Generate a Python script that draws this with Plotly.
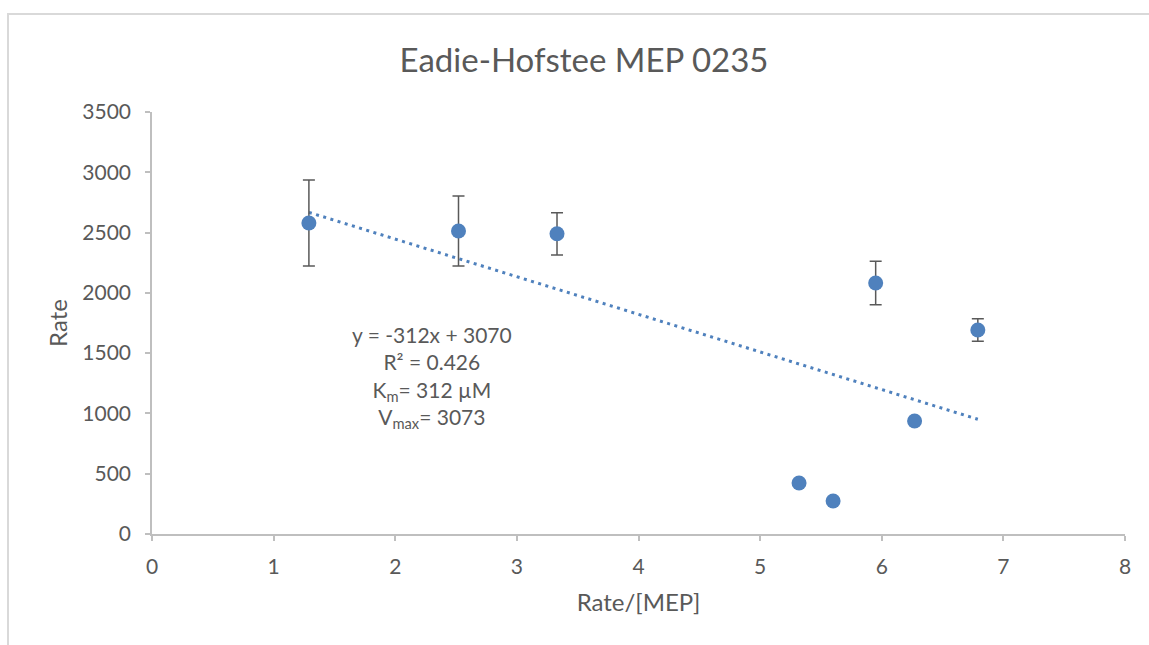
import plotly.graph_objects as go

# Data
rate_over_mep = [1.29, 2.52, 3.33, 5.95, 6.79, 6.27, 5.32, 5.60]
rate = [2579, 2513, 2490, 2082, 1692, 937, 423, 274]
rate_err = [357, 290, 175, 180, 94, 0, 0, 0]

# Linear trendline y = slope*x + intercept
slope = -312
intercept = 3070

x_ticks = [0, 1, 2, 3, 4, 5, 6, 7, 8]
y_ticks = [0, 500, 1000, 1500, 2000, 2500, 3000, 3500]

FONT = "Lato"
TXT = "#595959"
AX = "#BFBFBF"
BLUE = "#4F81BD"

x_min, x_max = min(rate_over_mep), max(rate_over_mep)
trend_x = [x_min, x_max]
trend_y = [slope * v + intercept for v in trend_x]

fig = go.Figure()
fig.add_trace(go.Scatter(
    x=trend_x, y=trend_y, mode="lines",
    line=dict(color=BLUE, width=3, dash="3px,4.5px"),
    hoverinfo="skip", showlegend=False,
))
fig.add_trace(go.Scatter(
    x=rate_over_mep, y=rate, mode="markers",
    marker=dict(color=BLUE, size=15, line=dict(width=0)),
    error_y=dict(type="data", array=rate_err, visible=True,
                 color="#595959", thickness=1.5, width=6),
    showlegend=False,
))

fig.add_annotation(
    x=2.3, y=1300, xref="x", yref="y",
    text="y = -312x + 3070<br>R² = 0.426<br>K<sub>m</sub>= 312 µM<br>V<sub>max</sub>= 3073",
    showarrow=False, align="center",
    font=dict(family=FONT, size=21, color=TXT),
)

fig.update_layout(
    width=1149, height=645,
    margin=dict(l=152, r=24, t=112, b=111),
    paper_bgcolor="white", plot_bgcolor="white",
    title=dict(text="Eadie-Hofstee MEP 0235", x=584 / 1149, xanchor="center",
               xref="container", y=1 - 60 / 645, yanchor="middle", yref="container",
               font=dict(family=FONT, size=33, color=TXT)),
    font=dict(family=FONT, color=TXT),
    shapes=[dict(type="rect", xref="paper", yref="paper",
                 x0=-144/973, x1=1.2, y0=1 + 98/422, y1=-0.5,
                 line=dict(color="#D9D9D9", width=2), layer="below")],
)
fig.update_xaxes(
    range=[0, 8], tickvals=x_ticks, ticktext=[str(v) for v in x_ticks],
    showgrid=False, zeroline=False, showline=True, linecolor=AX, linewidth=1.5,
    ticks="outside", ticklen=5, tickcolor=AX, tickwidth=1.5,
    ticklabelstandoff=8,
    tickfont=dict(family=FONT, size=21, color=TXT),
    title=dict(text="Rate/[MEP]", font=dict(family=FONT, size=24, color=TXT), standoff=17),
)
fig.update_yaxes(
    range=[0, 3500], tickvals=y_ticks, ticktext=[str(v) for v in y_ticks],
    showgrid=False, zeroline=False, showline=True, linecolor=AX, linewidth=1.5,
    ticks="outside", ticklen=5, tickcolor=AX, tickwidth=1.5,
    ticklabelstandoff=10,
    tickfont=dict(family=FONT, size=21, color=TXT),
    title=dict(text="Rate", font=dict(family=FONT, size=24, color=TXT), standoff=8),
)

fig.write_html("out.html")
